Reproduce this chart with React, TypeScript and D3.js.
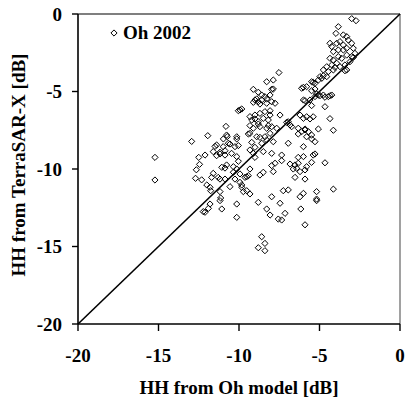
import React from "react";
import * as d3 from "d3";

const xTicks = [-20, -15, -10, -5, 0];
const yTicks = [-20, -15, -10, -5, 0];
const seriesName = "Oh 2002";
const xTitle = "HH from Oh model [dB]";
const yTitle = "HH from TerraSAR-X [dB]";
const oneToOne = [-20, 0];

// HH from Oh model [dB] (x) and HH from TerraSAR-X [dB] (y)
const ohModelDb = [
  -3.0, -2.73, -3.83, -3.98, -3.52, -3.31, -4.35, -4.24, -3.93, -3.73, -3.52, -3.21, -3.0,
  -4.14, -3.83, -3.52, -3.31, -2.9, -2.8, -4.35, -4.14, -3.83, -3.62, -3.31, -3.0,
  -4.55, -4.24, -3.93, -3.73, -3.42, -3.11, -4.76, -4.45, -4.14, -3.31, -4.97, -3.42, -2.9, -4.04,
  -6.11, -6.0, -5.8, -5.49, -5.28, -5.07, -4.86, -4.55, -5.28, -5.49, -5.18, -4.97, -4.66, -4.35,
  -6.0, -5.9, -5.59, -5.28, -5.07, -4.76, -4.45, -4.24, -4.66, -5.49, -4.35, -4.14, -5.07, -5.9, -4.76, -5.39,
  -7.52, -8.28, -7.87, -9.11, -8.8, -8.59, -8.4, -8.07, -7.97, -9.01, -8.9, -8.8, -8.59, -8.28,
  -7.97, -7.76, -9.11, -8.7, -8.28, -7.87, -9.94, -10.04, -9.83, -9.32, -9.01, -8.7, -8.39, -8.07,
  -7.45, -8.07, -9.21, -8.8, -8.49, -8.18, -9.01, -9.32, -9.11, -8.7, -8.28, -7.97, -7.66, -8.8,
  -8.18, -8.9, -8.39, -8.07, -8.7, -8.59, -8.28, -7.87, -8.49, -7.97, -9.42, -9.32,
  -15.22, -15.22, -12.94, -11.94, -12.5, -12.45, -12.65, -12.7, -12.32, -11.7, -11.8, -11.76, -11.29,
  -11.07, -10.87, -11.18, -10.87, -11.39, -11.18, -11.6, -12.11, -11.49, -10.97, -10.98, -11.39,
  -11.18, -10.87, -10.81, -10.77, -11.6, -12.0, -11.18, -11.18, -11.14, -11.8, -12.11, -11.07, -12.22, -11.9,
  -10.73, -10.56, -10.14, -10.04, -9.21, -9.01, -10.14, -10.66, -10.25, -9.32, -9.11, -10.46, -10.14,
  -10.87, -10.04, -10.14, -10.35, -9.94, -9.63, -9.42, -9.32, -10.25, -9.01, -9.94, -9.83, -9.52,
  -9.32, -10.14, -10.14, -10.77, -10.35, -10.56, -9.83, -9.73, -9.52,
  -8.49, -8.7, -7.87, -7.76, -7.35, -7.97, -7.35, -8.8, -7.97, -8.28, -8.07, -7.45, -7.14, -7.56,
  -7.35, -7.25, -8.59, -8.39, -8.8, -8.39,
  -6.94, -6.83, -6.73, -7.04, -6.21, -6.0, -5.8, -5.39, -5.59, -6.32, -6.11, -5.9, -5.69, -5.8, -5.49,
  -6.32, -5.49, -6.94, -6.0, -5.28, -5.39, -5.28, -6.0, -6.32, -6.52, -6.42, -6.21, -5.9, -5.8, -6.83,
  -6.63, -6.32, -6.52, -5.9, -5.49, -4.66, -6.94, -6.0, -6.21, -5.18, -5.18, -4.14, -6.16, -5.9, -5.18,
];

const terraSarDb = [
  -0.3, -0.43, -0.82, -1.25, -1.35, -1.46, -1.89, -2.1, -1.89, -1.78, -2.0, -1.68, -1.89,
  -2.43, -2.32, -2.32, -2.21, -2.21, -2.54, -2.86, -2.97, -2.75, -2.86, -2.65, -2.75,
  -3.4, -3.29, -3.18, -3.4, -3.29, -3.08, -3.61, -3.72, -3.61, -3.61, -4.04, -3.66, -2.8, -3.44,
  -4.79, -4.73, -4.69, -4.37, -4.47, -4.26, -4.15, -4.04, -4.84, -4.95, -5.16, -5.27, -5.37, -5.27,
  -5.55, -5.59, -5.55, -5.33, -5.23, -5.23, -5.33, -5.23, -5.98, -5.91, -6.75, -7.5, -7.42, -7.42, -3.98, -4.41,
  -3.78, -4.37, -4.26, -4.86, -5.05, -5.23, -5.33, -5.23, -4.86, -5.55, -5.48, -5.66, -5.55, -5.76,
  -5.66, -5.76, -5.7, -5.81, -5.48, -4.84, -6.19, -6.24, -6.13, -6.62, -6.52, -6.41, -6.3, -6.52,
  -6.52, -6.24, -6.84, -6.95, -6.73, -6.84, -6.77, -7.2, -7.37, -7.27, -7.37, -7.27, -7.37, -7.1,
  -7.2, -7.92, -7.92, -7.7, -7.96, -8.34, -8.13, -8.24, -8.88, -8.99, -7.74, -7.7,
  -9.25, -10.71, -8.22, -7.85, -9.25, -9.7, -10.05, -10.6, -10.7, -10.54, -11.18, -11.4, -10.54,
  -9.89, -9.94, -10.65, -10.65, -9.14, -9.03, -8.88, -9.1, -8.54, -8.06, -8.56, -8.45,
  -8.92, -8.82, -7.25, -7.81, -10.28, -11.03, -11.46, -12.04, -11.87, -12.26, -12.79, -12.58, -12.75, -12.54,
  -7.91, -8.39, -8.06, -8.49, -8.28, -8.6, -7.92, -8.34, -8.56, -8.77, -8.99, -8.99, -9.2,
  -9.1, -9.5, -10.0, -10.21, -10.32, -10.54, -10.43, -10.0, -10.65, -9.25, -10.86, -11.18, -11.4,
  -11.61, -12.26, -13.12, -9.74, -9.85, -11.14, -11.03, -11.46, -10.5,
  -10.21, -10.39, -10.17, -9.63, -9.1, -9.78, -9.46, -12.15, -11.79, -12.58, -12.97, -12.21, -12.86, -13.23,
  -13.29, -11.4, -14.37, -14.8, -15.08, -15.27,
  -6.95, -7.16, -7.27, -6.99, -6.52, -6.73, -6.63, -6.63, -6.77, -7.37, -7.59, -7.48, -7.59, -7.92, -7.81,
  -7.74, -8.06, -8.34, -8.56, -8.24, -9.1, -9.03, -9.2, -9.63, -9.74, -9.95, -10.17, -10.06, -9.85, -9.68,
  -10.0, -9.25, -10.54, -10.65, -9.57, -9.6, -11.35, -11.57, -11.79, -11.46, -11.94, -11.3, -12.58, -13.6, -12.04,
];

const FONT = "'Liberation Serif', 'Times New Roman', Times, serif";

export default function App() {
  const W = 406;
  const H = 400;
  const x = d3.scaleLinear().domain([-20, 0]).range([78, 400]);
  const y = d3.scaleLinear().domain([-20, 0]).range([324, 14]);
  const r = 3.1;
  const diamond = `M0,${-r}L${r},0L0,${r}L${-r},0Z`;
  const n = Math.min(ohModelDb.length, terraSarDb.length);
  const pts = d3.range(n).map((i) => [ohModelDb[i], terraSarDb[i]]);
  const line = d3.line<number>().x((d) => x(d)).y((d) => y(d));

  return (
    <svg
      width={W}
      height={H}
      style={{ position: "absolute", left: 0, top: 0, background: "#fff" }}
      fontFamily={FONT}
      fontWeight="bold"
    >
      <rect x={0} y={0} width={W} height={H} fill="#fff" />
      {/* frame: top black, right gray */}
      <line x1={x(-20)} x2={x(0)} y1={y(0)} y2={y(0)} stroke="#000" strokeWidth={1.2} />
      <line x1={x(0)} x2={x(0)} y1={y(0)} y2={y(-20)} stroke="#8a8a8a" strokeWidth={1.6} />

      {/* 1:1 line */}
      <path d={line(oneToOne) || ""} stroke="#000" strokeWidth={1.6} fill="none" />

      {/* points */}
      {pts.map((p, i) => (
        <path
          key={i}
          d={diamond}
          transform={`translate(${x(p[0])},${y(p[1])})`}
          fill="none"
          stroke="#000"
          strokeWidth={1}
        />
      ))}

      {/* axes */}
      <line x1={x(-20)} x2={x(-20)} y1={y(0)} y2={y(-20)} stroke="#000" strokeWidth={1.6} />
      <line x1={x(-20)} x2={x(0)} y1={y(-20)} y2={y(-20)} stroke="#000" strokeWidth={1.6} />
      {yTicks.map((t) => (
        <g key={"y" + t}>
          <line x1={x(-20) - 6} x2={x(-20)} y1={y(t)} y2={y(t)} stroke="#000" strokeWidth={1.4} />
          <text x={62} y={y(t)} dy="0.35em" textAnchor="end" fontSize={19}>
            {t}
          </text>
        </g>
      ))}
      {xTicks.map((t) => (
        <g key={"x" + t}>
          <line x1={x(t)} x2={x(t)} y1={y(-20)} y2={y(-20) + 7} stroke="#000" strokeWidth={1.4} />
          <text x={x(t)} y={362} textAnchor="middle" fontSize={19}>
            {t}
          </text>
        </g>
      ))}

      <text x={(x(-20) + x(0)) / 2} y={394} textAnchor="middle" fontSize={19}>
        {xTitle}
      </text>
      <text
        transform={`translate(25,${(y(0) + y(-20)) / 2 - 4}) rotate(-90)`}
        textAnchor="middle"
        fontSize={19}
      >
        {yTitle}
      </text>

      {/* legend */}
      <path d={diamond} transform="translate(114,33)" fill="none" stroke="#000" strokeWidth={1} />
      <text x={123} y={39} fontSize={19}>
        {seriesName}
      </text>
    </svg>
  );
}
